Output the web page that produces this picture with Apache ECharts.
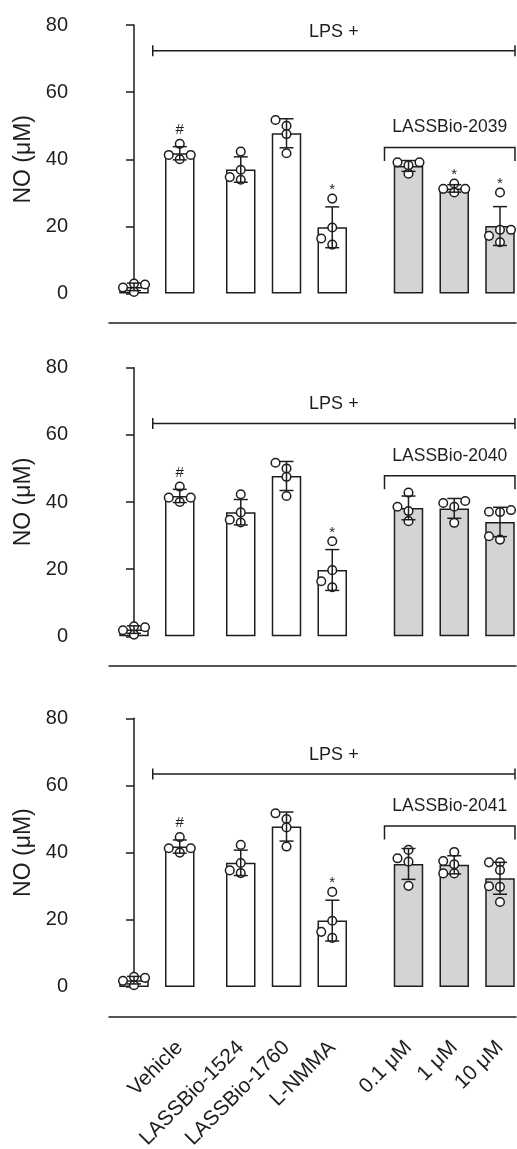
<!DOCTYPE html>
<html><head><meta charset="utf-8">
<script src="https://cdn.jsdelivr.net/npm/echarts@6/dist/echarts.min.js"></script>
<style>html,body{margin:0;padding:0;background:#fff}#c{width:517px;height:1149px}</style>
</head><body><div id="c"></div>
<script>
// ---------------- DATA ----------------
const categories = ['', 'Vehicle', 'LASSBio-1524', 'LASSBio-1760', 'L-NMMA', '0.1 μM', '1 μM', '10 μM'];
const compounds = ['LASSBio-2039', 'LASSBio-2040', 'LASSBio-2041'];
const basalVehicle = [0.5, 3.0, 1.8, 2.7];
const lpsVehicle = [40.0, 44.6, 41.3, 41.3];
const lassbio1524 = [36.9, 42.3, 33.9, 34.7];
const lassbio1760 = [50.0, 51.7, 47.5, 41.8];
const lNMMA = [28.3, 19.7, 14.6, 16.4];
const lb2039 = [[39.1, 39.1, 38.2, 35.7], [32.8, 31.2, 31.2, 30.1], [30.1, 19.0, 19.0, 17.2, 15.3]];
const lb2040 = [[42.8, 38.6, 37.3, 34.3], [40.3, 39.7, 38.6, 33.8], [37.6, 37.0, 37.1, 29.8, 28.8]];
const lb2041 = [[38.3, 40.8, 37.3, 30.1], [40.2, 37.5, 36.5, 33.8, 33.8], [37.1, 37.1, 34.8, 30.0, 29.8, 25.3]];
const marks2039 = ['', '#', '', '', '*', '', '*', '*'];
const marks2040 = ['', '#', '', '', '*', '', '', ''];
const marks2041 = ['', '#', '', '', '*', '', '', ''];
const yTicks = [0, 20, 40, 60, 80];
const yTitle = 'NO (μM)';
const lpsText = 'LPS +';

// ---------------- LAYOUT ----------------
const slots = [0, 3, 7, 10, 13, 18, 21, 24];
const panelTops = [25, 367.7, 718.3];
const plotH = 268.6;
const gridLeft = 109, gridRight = 1;
const xMin = -1.64, xMax = 25.05;
const lpsLevel = [72.3, 63.4, 63.4];
const groupLevel = [43.5, 47.8, 47.9];
const INK = '#1e1e1e';
const GRAY = '#d4d4d4';
const FONT = 'Liberation Sans, Arial, sans-serif';
const R = 4.3;
const MIN_DIST = 7.5;

const panels = [
  { groups: lb2039, marks: marks2039, name: compounds[0] },
  { groups: lb2040, marks: marks2040, name: compounds[1] },
  { groups: lb2041, marks: marks2041, name: compounds[2] }
];

function mean(a) { return a.reduce((s, v) => s + v, 0) / a.length; }
function sd(a) { const m = mean(a); return Math.sqrt(a.reduce((s, v) => s + (v - m) * (v - m), 0) / (a.length - 1)); }
function swarm(vals, ppu) {
  const d = 11;
  const order = vals.map((v, k) => k).sort((a, b) => vals[a] - vals[b]);
  const placed = [], off = new Array(vals.length).fill(0);
  const cands = [0, -d, d, -2 * d, 2 * d];
  for (const k of order) {
    for (const c of cands) {
      if (placed.every(p => Math.hypot(p.x - c, (p.v - vals[k]) * ppu) >= MIN_DIST)) {
        off[k] = c; placed.push({ x: c, v: vals[k] }); break;
      }
    }
  }
  return off;
}

const grid = [], xAxis = [], yAxis = [], series = [];
panels.forEach((p, i) => {
  const sets = [basalVehicle, lpsVehicle, lassbio1524, lassbio1760, lNMMA].concat(p.groups);
  grid.push({ left: gridLeft, right: gridRight, top: panelTops[i], height: plotH, containLabel: false, outerBoundsMode: 'none' });
  xAxis.push({
    gridIndex: i, type: 'value', min: xMin, max: xMax, offset: 29.5,
    axisLine: { show: true, onZero: false, lineStyle: { color: INK, width: 1.5 } },
    axisTick: { show: false }, splitLine: { show: false },
    axisLabel: {
      show: i === 2, customValues: slots.slice(1), rotate: 45, margin: 28,
      fontSize: 21, fontFamily: FONT, color: INK,
      formatter: v => { const k = slots.indexOf(Math.round(v)); return k >= 0 ? categories[k] : ''; }
    }
  });
  yAxis.push({
    gridIndex: i, type: 'value', min: yTicks[0], max: yTicks[yTicks.length - 1], interval: 20, offset: 29,
    axisLine: { show: true, lineStyle: { color: INK, width: 1.5 } },
    axisTick: { show: true, length: 8, lineStyle: { color: INK, width: 1.5 } },
    axisLabel: { fontSize: 20, fontFamily: FONT, color: INK, margin: 12 },
    splitLine: { show: false },
    name: yTitle, nameLocation: 'middle', nameGap: 43,
    nameTextStyle: { fontSize: 23, fontFamily: FONT, color: INK }
  });
  const ppu = plotH / 80;
  // bars
  series.push({
    type: 'bar', xAxisIndex: i, yAxisIndex: i, barWidth: 29.5, z: 2, animation: false,
    data: sets.map((s, j) => ({ value: [slots[j], mean(s)], itemStyle: { color: j >= 5 ? GRAY : '#fff', borderColor: INK, borderWidth: 1.5 } }))
  });
  // points
  const pts = [];
  sets.forEach((s, j) => { const off = swarm(s, ppu); s.forEach((v, k) => pts.push([slots[j], v, off[k]])); });
  series.push({
    type: 'custom', xAxisIndex: i, yAxisIndex: i, z: 3, animation: false, data: pts,
    renderItem: (params, api) => {
      const c = api.coord([api.value(0), api.value(1)]);
      return { type: 'circle', shape: { cx: c[0] + api.value(2), cy: c[1], r: R }, style: { fill: '#fff', stroke: INK, lineWidth: 1.5 } };
    }
  });
  // error bars
  series.push({
    type: 'custom', xAxisIndex: i, yAxisIndex: i, z: 4, animation: false,
    data: sets.map((s, j) => [slots[j], mean(s), sd(s)]),
    renderItem: (params, api) => {
      const x = api.value(0), m = api.value(1), e = api.value(2);
      const hi = api.coord([x, m + e]), lo = api.coord([x, m - e]);
      const st = { stroke: INK, lineWidth: 1.5 };
      return { type: 'group', children: [
        { type: 'line', shape: { x1: hi[0], y1: hi[1], x2: lo[0], y2: lo[1] }, style: st },
        { type: 'line', shape: { x1: hi[0] - 7, y1: hi[1], x2: hi[0] + 7, y2: hi[1] }, style: st },
        { type: 'line', shape: { x1: lo[0] - 7, y1: lo[1], x2: lo[0] + 7, y2: lo[1] }, style: st }
      ] };
    }
  });
  // significance marks
  series.push({
    type: 'custom', xAxisIndex: i, yAxisIndex: i, z: 5, animation: false,
    data: sets.map((s, j) => [slots[j], Math.max(Math.max.apply(null, s), mean(s) + sd(s)), j]),
    renderItem: (params, api) => {
      const j = api.value(2), t = p.marks[j];
      if (!t) return null;
      const c = api.coord([api.value(0), api.value(1)]);
      const y = t === '#' ? c[1] - R - 2 : c[1] - R + 3;
      return { type: 'text', style: { text: t, x: c[0], y: y, align: 'center', verticalAlign: 'bottom', fontSize: 15, fontFamily: FONT, fill: INK } };
    }
  });
  // brackets
  series.push({
    type: 'custom', xAxisIndex: i, yAxisIndex: i, z: 5, animation: false,
    data: [[slots[1], lpsLevel[i]]],
    renderItem: (params, api) => {
      const st = { stroke: INK, lineWidth: 1.5 };
      const a = api.coord([slots[1], lpsLevel[i]]), b = api.coord([slots[7], lpsLevel[i]]);
      const x1 = a[0] - 27, x2 = b[0] + 15, y = a[1];
      const g1 = api.coord([slots[5], groupLevel[i]]);
      const gx1 = g1[0] - 24, gx2 = x2, gy = g1[1];
      return { type: 'group', children: [
        { type: 'line', shape: { x1: x1, y1: y, x2: x2, y2: y }, style: st },
        { type: 'line', shape: { x1: x1, y1: y - 5.5, x2: x1, y2: y + 5.5 }, style: st },
        { type: 'line', shape: { x1: x2, y1: y - 5.5, x2: x2, y2: y + 5.5 }, style: st },
        { type: 'text', style: { text: lpsText, x: (x1 + x2) / 2, y: y - 19, align: 'center', verticalAlign: 'middle', fontSize: 18, fontFamily: FONT, fill: INK } },
        { type: 'polyline', shape: { points: [[gx1, gy + 13.5], [gx1, gy], [gx2, gy], [gx2, gy + 13.5]] }, style: { stroke: INK, lineWidth: 1.5, fill: null } },
        { type: 'text', style: { text: p.name, x: (gx1 + gx2) / 2, y: gy - 20, align: 'center', verticalAlign: 'middle', fontSize: 17.5, fontFamily: FONT, fill: INK } }
      ] };
    }
  });
});

const chart = echarts.init(document.getElementById('c'), null, { renderer: 'canvas' });
chart.setOption({ animation: false, backgroundColor: '#fff', grid, xAxis, yAxis, series });
</script>
</body></html>
